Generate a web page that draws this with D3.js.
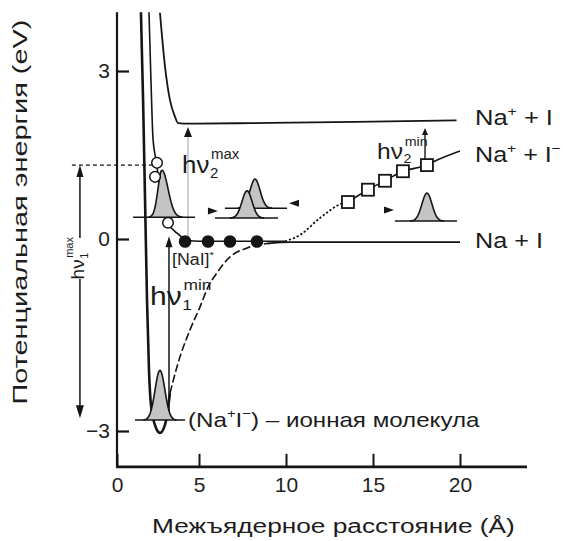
<!DOCTYPE html>
<html>
<head>
<meta charset="utf-8">
<script src="https://cdn.jsdelivr.net/npm/d3@7"></script>
<style>
  html, body { margin: 0; padding: 0; background: #fff; }
  svg { display: block; }
</style>
</head>
<body>
<svg id="chart" width="563" height="541"></svg>
<script>
// ---------- data: internuclear distance R (Å), potential energy E (eV) ----------
const xTicks = [0, 5, 10, 15, 20];
const yTicks = [-3, 0, 3];

// Na+ + I (ionised) potential
const upperR = [2.62, 2.93, 3.23, 3.54, 3.72, 4.45, 8.0, 14.0, 19.8];
const upperE = [4.04, 3.07, 2.48, 2.18, 2.07, 2.06, 2.07, 2.09, 2.12];

// ground state: ionic well at short R, Na + I asymptote at long R
const groundR = [1.46, 1.59, 1.71, 1.83, 1.95, 2.07, 2.32, 2.62, 2.93, 3.23, 3.72, 4.45, 5.06, 5.52, 6.03, 6.78, 7.76, 8.91, 10.23, 12.0, 20.0];
const groundE = [4.05, 2.48, 0.70, -0.95, -2.05, -2.59, -2.91, -3.03, -2.90, -2.41, -1.94, -1.42, -1.06, -0.75, -0.53, -0.28, -0.14, -0.07, -0.05, -0.05, -0.05];

// excited state: covalent wall and plateau
const excR = [1.95, 2.07, 2.20, 2.38, 2.74, 3.11, 3.72, 4.27, 5.06, 7.0, 9.94];
const excE = [4.05, 2.84, 1.77, 1.41, 0.70, 0.29, 0.09, -0.02, -0.035, -0.035, -0.035];
// avoided-crossing region
const crossR = [9.94, 10.8, 11.95, 13.28, 13.56];
const crossE = [-0.035, 0.07, 0.375, 0.64, 0.66];
// ionic branch toward Na+ + I-
const squareR = [13.56, 14.71, 15.69, 16.72, 18.10];
const squareE = [0.66, 0.88, 1.04, 1.21, 1.32];
const tailR = [18.45, 20.0];
const tailE = [1.375, 1.57];

// wave-packet positions in the [NaI]* well
const dotR = [4.15, 5.52, 6.78, 8.33];
const dotE = [-0.04, -0.04, -0.04, -0.04];
// early wave-packet positions on the repulsive wall
const ringR = [2.44, 2.32, 3.11];
const ringE = [1.36, 1.11, 0.29];

// wave packets: centre, baseline, peak, left/right widths, baseline extent
const packetR     = [2.62, 2.74, 8.22, 7.76, 18.10];
const packetBase  = [-2.83, 0.39, 0.55, 0.375, 0.32];
const packetPeak  = [-2.05, 1.23, 1.07, 0.86, 0.82];
const packetSigL  = [0.30, 0.24, 0.29, 0.29, 0.29];
const packetSigR  = [0.30, 0.37, 0.29, 0.29, 0.29];
const packetFrom  = [1.10, 0.98, 6.49, 5.92, 16.26];
const packetTo    = [4.15, 4.76, 10.06, 9.54, 19.83];

// motion arrowheads next to the packets (direction +1 right, -1 left)
const moveR = [5.80, 10.46, 15.92];
const moveE = [0.50, 0.64, 0.52];
const moveDir = [1, -1, 1];

// photon transitions
const hv1max = { r: -2.26, from: -2.80, to: 1.32 };
const hv1min = { r: 3.17, from: -2.83, to: 0.05 };
const hv2max = { r: 4.33, from: -0.02, to: 2.00 };
const hv2min = { r: 17.99, from: 1.41, to: 1.98 };
const probeLevel = { e: 1.32, from: -2.75, to: 2.13 };

const R_MAX = 23.85, E_MIN = -3.56, E_MAX = 4.05;

// ---------- drawing ----------
const FONT = '"Liberation Sans", Arial, Helvetica, sans-serif';
const INK = "#151515";
const svg = d3.select("#chart");

const x = d3.scaleLinear().domain([0, 5, 20]).range([117, 199, 460]);
const y = d3.scaleLinear().domain([-3, 0, 3]).range([431, 239, 71]);
const zip = (a, b) => a.map((v, i) => [v, b[i]]);
const line = d3.line().x(d => x(d[0])).y(d => y(d[1])).curve(d3.curveMonotoneX);

// axes
const gx = svg.append("g")
  .attr("transform", `translate(0,${y(E_MIN)})`)
  .call(d3.axisBottom(x).tickValues(xTicks).tickSize(-13).tickPadding(10).tickFormat(d3.format("d")));
gx.select(".domain").remove();
gx.attr("font-size", 21).attr("font-family", FONT);
gx.selectAll(".tick line").attr("stroke", INK).attr("stroke-width", 2);
gx.selectAll(".tick text").attr("fill", "#222");

const gy = svg.append("g")
  .attr("transform", `translate(${x(0)},0)`)
  .call(d3.axisLeft(y).tickValues(yTicks).tickSize(-12).tickPadding(7).tickFormat(d3.format("d")));
gy.select(".domain").remove();
gy.attr("font-size", 21).attr("font-family", FONT);
gy.selectAll(".tick line").attr("stroke", INK).attr("stroke-width", 2.2);
gy.selectAll(".tick text").attr("fill", "#222");

svg.append("line").attr("x1", x(0) - 1).attr("x2", x(R_MAX))
  .attr("y1", y(E_MIN)).attr("y2", y(E_MIN)).attr("stroke", INK).attr("stroke-width", 2.6);
svg.append("line").attr("x1", x(0)).attr("x2", x(0))
  .attr("y1", y(E_MIN)).attr("y2", y(E_MAX)).attr("stroke", INK).attr("stroke-width", 2.2);

// potential curves
const curves = svg.append("g").attr("fill", "none").attr("stroke", INK);
const groundPts = zip(groundR, groundE);
curves.append("path").attr("d", line(groundPts.slice(0, 10))).attr("stroke-width", 2.6);
curves.append("path").attr("d", line(groundPts.slice(9, 18))).attr("stroke-width", 1.6).attr("stroke-dasharray", "8,3");
curves.append("path").attr("d", line(groundPts.slice(17))).attr("stroke-width", 1.8);

curves.append("path").attr("d", line(zip(upperR, upperE))).attr("stroke-width", 1.8);
curves.append("path").attr("d", line(zip(excR, excE))).attr("stroke-width", 1.6);
curves.append("path").attr("d", line(zip(crossR, crossE))).attr("stroke-width", 1.8).attr("stroke-dasharray", "2.2,2");
curves.append("path").attr("d", line(zip(squareR.concat(tailR), squareE.concat(tailE)))).attr("stroke-width", 1.6);

// dashed probe level to the hv1max arrow
svg.append("line")
  .attr("x1", x(probeLevel.from)).attr("x2", x(probeLevel.to))
  .attr("y1", y(probeLevel.e)).attr("y2", y(probeLevel.e))
  .attr("stroke", INK).attr("stroke-width", 1.3).attr("stroke-dasharray", "4,3");

// arrowheads
function vHead(px, py, dir, w, l) {   // dir -1 = pointing up, +1 = pointing down
  svg.append("path")
    .attr("d", `M${px},${py} L${px - w / 2},${py - dir * l} L${px + w / 2},${py - dir * l} Z`)
    .attr("fill", INK);
}
function hHead(px, py, dir, w, l) {   // dir +1 = pointing right
  svg.append("path")
    .attr("d", `M${px + dir * l / 2},${py} L${px - dir * l / 2},${py - w / 2} L${px - dir * l / 2},${py + w / 2} Z`)
    .attr("fill", INK);
}

// photon arrows
svg.append("line").attr("x1", x(hv2max.r)).attr("x2", x(hv2max.r))
  .attr("y1", y(hv2max.from)).attr("y2", y(hv2max.to) + 8)
  .attr("stroke", "#b5b5b5").attr("stroke-width", 1.3);
vHead(x(hv2max.r), y(hv2max.to), -1, 8, 10);

svg.append("line").attr("x1", x(hv1min.r)).attr("x2", x(hv1min.r))
  .attr("y1", y(hv1min.from)).attr("y2", y(hv1min.to) + 8)
  .attr("stroke", INK).attr("stroke-width", 1.5);
vHead(x(hv1min.r), y(hv1min.to), -1, 7, 11);

svg.append("line").attr("x1", x(hv2min.r)).attr("x2", x(hv2min.r))
  .attr("y1", y(hv2min.from)).attr("y2", y(hv2min.to) + 5)
  .attr("stroke", INK).attr("stroke-width", 1.4);
vHead(x(hv2min.r), y(hv2min.to), -1, 6, 7);

const hv1x = x(hv1max.r);
svg.append("line").attr("x1", hv1x).attr("x2", hv1x)
  .attr("y1", y(hv1max.to) + 10).attr("y2", 238)
  .attr("stroke", INK).attr("stroke-width", 1.5);
svg.append("line").attr("x1", hv1x).attr("x2", hv1x)
  .attr("y1", 279).attr("y2", y(hv1max.from) - 10)
  .attr("stroke", INK).attr("stroke-width", 1.5);
vHead(hv1x, y(hv1max.to), -1, 7, 12);
vHead(hv1x, y(hv1max.from), 1, 8, 13);

// wave packets
const packets = svg.append("g");
packetR.forEach((c, i) => {
  const b = packetBase[i], p = packetPeak[i];
  const pts = d3.range(-3.4, 3.41, 0.1).map(t => {
    const s = t < 0 ? packetSigL[i] : packetSigR[i];
    return [c + t * s, b + (p - b) * Math.exp(-t * t / 2)];
  });
  const g = packets.append("g");
  g.append("path")
    .attr("d", d3.area().x(d => x(d[0])).y0(y(b)).y1(d => y(d[1])).curve(d3.curveBasis)(pts))
    .attr("fill", "#c4c4c4");
  g.append("line")
    .attr("x1", x(packetFrom[i])).attr("x2", x(packetTo[i]))
    .attr("y1", y(b)).attr("y2", y(b))
    .attr("stroke", INK).attr("stroke-width", 1.5);
  g.append("path")
    .attr("d", d3.line().x(d => x(d[0])).y(d => y(d[1])).curve(d3.curveBasis)(pts))
    .attr("fill", "none").attr("stroke", INK).attr("stroke-width", 1.6);
});

moveR.forEach((r, i) => hHead(x(r), y(moveE[i]), moveDir[i], 7, 10));

// markers
svg.append("g").selectAll("circle.dot").data(zip(dotR, dotE)).join("circle")
  .attr("cx", d => x(d[0])).attr("cy", d => y(d[1])).attr("r", 6.3).attr("fill", INK);
svg.append("g").selectAll("circle.ring").data(zip(ringR, ringE)).join("circle")
  .attr("cx", d => x(d[0])).attr("cy", d => y(d[1])).attr("r", 5.3)
  .attr("fill", "#fff").attr("stroke", INK).attr("stroke-width", 1.5);
svg.append("g").selectAll("rect").data(zip(squareR, squareE)).join("rect")
  .attr("x", d => x(d[0]) - 6).attr("y", d => y(d[1]) - 6).attr("width", 12).attr("height", 12)
  .attr("fill", "#fff").attr("stroke", INK).attr("stroke-width", 1.8);

// ---------- text ----------
function label(px, py, parts, opt) {
  const g = svg.append("g");
  const t = g.append("text").attr("font-size", opt.size).attr("font-family", FONT).attr("fill", "#1c1c1c");
  let shift = 0;
  parts.forEach(([s, k]) => {
    const target = k === "sup" ? -0.42 * opt.size : k === "sub" ? 0.2 * opt.size : 0;
    t.append("tspan").attr("dy", target - shift)
      .attr("font-size", k === "n" ? opt.size : opt.size * 0.62).text(s);
    shift = target;
  });
  const w = t.node().getBBox().width;
  const sx = opt.width ? opt.width / w : (opt.sx || 1);
  if (opt.anchor === "middle") t.attr("x", -w / 2);
  g.attr("transform", `translate(${px},${py})${opt.rot ? ` rotate(${opt.rot})` : ""} scale(${sx},1)`);
  return g;
}

function hnu(px, py, sub, sup, opt) {
  const outer = svg.append("g");
  const g = outer.append("g");
  const main = g.append("text").attr("font-size", opt.size).attr("font-family", FONT).attr("fill", "#1c1c1c").text("hν");
  const w = main.node().getComputedTextLength();
  const small = opt.size * 0.58;
  g.append("text").attr("x", w + 0.5).attr("y", opt.size * 0.2).attr("font-size", small)
    .attr("font-family", FONT).attr("fill", "#1c1c1c").text(sub);
  g.append("text").attr("x", w + 1.5).attr("y", -opt.size * 0.6).attr("font-size", small)
    .attr("font-family", FONT).attr("fill", "#1c1c1c").text(sup);
  if (opt.anchor === "middle") {
    const bw = g.node().getBBox().width;
    g.attr("transform", `translate(${-bw / 2},0)`);
  }
  outer.attr("transform", `translate(${px},${py})${opt.rot ? ` rotate(${opt.rot})` : ""} scale(${opt.sx || 1},1)`);
}

// axis titles
label(27, 212, [["Потенциальная энергия (eV)", "n"]], { size: 21, rot: -90, anchor: "middle", width: 385 });
label(152, 533, [["Межъядерное расстояние (Å)", "n"]], { size: 21, width: 363 });

// curve labels
label(475, 125, [["Na", "n"], ["+", "sup"], [" + I", "n"]], { size: 22, width: 78 });
label(475, 162, [["Na", "n"], ["+", "sup"], [" + I", "n"], ["−", "sup"]], { size: 22, width: 86 });
label(475, 248, [["Na + I", "n"]], { size: 22, width: 68 });
label(188, 427, [["(Na", "n"], ["+", "sup"], ["I", "n"], ["−", "sup"], [") – ионная молекула", "n"]], { size: 21, width: 292 });
label(172, 265, [["[NaI]", "n"], ["*", "sup"]], { size: 16, width: 42 });

// photon labels
hnu(182, 173, "2", "max", { size: 24, sx: 1.08 });
hnu(150, 305, "1", "min", { size: 25, sx: 1.2 });
hnu(377, 159, "2", "min", { size: 22, sx: 1.12 });
hnu(84, 258, "1", "max", { size: 19, rot: -90, anchor: "middle" });
</script>
</body>
</html>
